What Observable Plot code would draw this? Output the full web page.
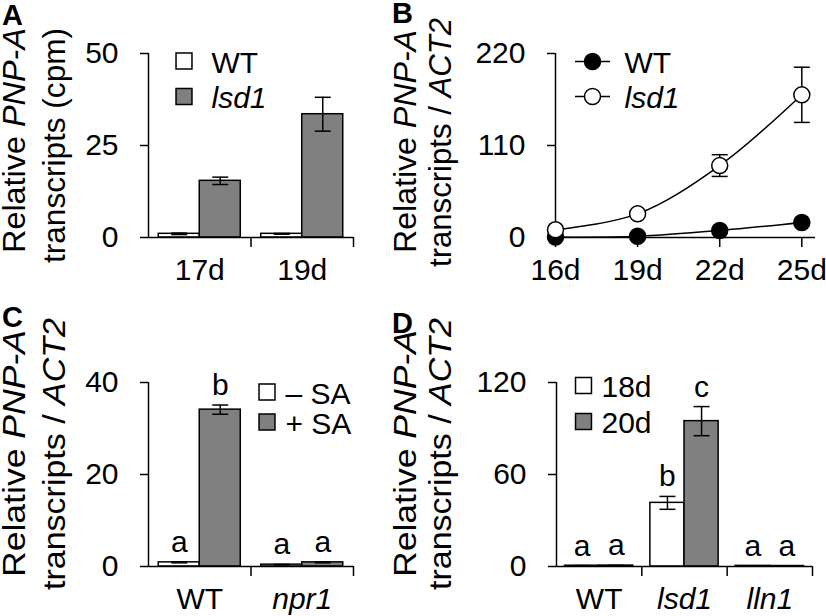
<!DOCTYPE html>
<html><head><meta charset="utf-8">
<script src="https://cdn.jsdelivr.net/npm/d3@7"></script>
<script src="https://cdn.jsdelivr.net/npm/@observablehq/plot@0.6"></script>
<style>
body{margin:0;background:#fff;}
#fig{position:relative;width:826px;height:616px;overflow:hidden;background:#fff;}
#fig svg{position:absolute;overflow:visible;background:transparent;}
</style></head><body><div id="fig"></div>
<script>
// ---------- DATA ----------
// Panel A
const groupsA = ["17d", "19d"];
const seriesA = ["WT", "lsd1"];
const aWT = [1.0, 1.0];
const aWTerr = [0.2, 0.1];
const aLsd1 = [15.4, 33.5];
const aLsd1err = [1.0, 4.6];
const yTicksA = [0, 25, 50];
// Panel B
const daysB = [16, 19, 22, 25];
const dayLabelsB = ["16d", "19d", "22d", "25d"];
const seriesB = ["WT", "lsd1"];
const bWT = [0.5, 1.5, 8.4, 18];
const bWTerr = [0.3, 0.5, 1, 1.5];
const bLsd1 = [9.2, 28.3, 86, 170.6];
const bLsd1err = [1, 2, 13, 33];
const yTicksB = [0, 110, 220];
// Panel C
const groupsC = ["WT", "npr1"];
const seriesC = ["\u2013 SA", "+ SA"];
const cMinus = [0.9, 0.4];
const cMinusErr = [0.1, 0.05];
const cPlus = [34.1, 0.9];
const cPlusErr = [1.0, 0.1];
const cMinusLetters = ["a", "a"];
const cPlusLetters = ["b", "a"];
const yTicksC = [0, 20, 40];
// Panel D
const groupsD = ["WT", "lsd1", "lln1"];
const seriesD = ["18d", "20d"];
const d18 = [0.5, 41.5, 0.4];
const d18err = [0.1, 4.2, 0.1];
const d20 = [0.6, 94.8, 0.3];
const d20err = [0.1, 9.5, 0.1];
const d18Letters = ["a", "b", "a"];
const d20Letters = ["a", "c", "a"];
const yTicksD = [0, 60, 120];
// Titles
const titleA = [[["Relative ", false], ["PNP-A", true]], [["transcripts (cpm)", false]]];
const titleACT = [[["Relative ", false], ["PNP-A", true]], [["transcripts / ", false], ["ACT2", true]]];
const panelLabels = ["A", "B", "C", "D"];
const italicNames = ["lsd1", "npr1", "lln1"];

// ---------- STYLE / LAYOUT ----------
const FONT = '"Liberation Sans", Arial, Helvetica, sans-serif';
const GRAY = "#808080";
const PAD = 0.1, BW = 0.4, CAP = 8, SW = 1.5;
const capSymbol = {draw(ctx) { ctx.moveTo(-CAP, 0); ctx.lineTo(CAP, 0); }};
const lineLegendSymbol = {draw(ctx, size) {
  const r = Math.sqrt(size / Math.PI);
  ctx.moveTo(-17.5, 0); ctx.lineTo(-r, 0);
  ctx.moveTo(r, 0); ctx.lineTo(17.5, 0);
  ctx.moveTo(r, 0); ctx.arc(0, 0, r, 0, 2 * Math.PI);
}};
const fig = document.getElementById("fig");

function makeRows(series, vals, errs, letters) {
  const rows = [];
  series.forEach((s, si) => vals[si].forEach((v, gi) => rows.push({
    series: s, si, gi, value: v, err: errs[si][gi], letter: letters ? letters[si][gi] : null
  })));
  return rows;
}

function place(svg, left, top) {
  svg.style.left = left + "px";
  svg.style.top = top + "px";
  fig.appendChild(svg);
}

function addTitle(svg, off, lines, fs) {
  const g = d3.select(svg).append("g").attr("font-family", FONT).attr("font-size", fs).attr("fill", "black");
  lines.forEach(line => {
    const t = g.append("text")
      .attr("text-anchor", "middle")
      .attr("transform", `translate(${line.x - off[0]},${line.y - off[1]}) rotate(-90)`)
      .attr("textLength", line.len).attr("lengthAdjust", "spacingAndGlyphs");
    line.segs.forEach(([s, it]) => t.append("tspan").attr("font-style", it ? "italic" : "normal").text(s));
  });
}

function addPanelLabel(svg, off, label, x, y) {
  d3.select(svg).append("text").attr("x", x - off[0]).attr("y", y - off[1])
    .attr("text-anchor", "start")
    .attr("font-family", FONT).attr("font-size", 29).attr("font-weight", "bold").attr("fill", "black").text(label);
}

function barPanel(cfg) {
  const {groups, series, fills, rows, yTicks, w, h, m, leg} = cfg;
  const n = groups.length, yMax = yTicks[yTicks.length - 1];
  const x1 = d => d.gi + PAD + d.si * BW;
  const x2 = d => d.gi + PAD + (d.si + 1) * BW;
  const cx = d => d.gi + PAD + (d.si + 0.5) * BW;
  const hi = d => d.value + d.err;
  const lo = d => Math.max(0, d.value - d.err);
  const legendMarks = series.flatMap((s, i) => [
    Plot.dot([s], {frameAnchor: "top-left", dx: leg.sx, dy: leg.y0 + i * leg.step, symbol: "square", r: 9,
      fill: d => d, stroke: "black", strokeWidth: SW}),
    Plot.text([s], {frameAnchor: "top-left", dx: leg.tx, dy: leg.y0 + i * leg.step + 2, text: d => d,
      textAnchor: "start", lineAnchor: "middle", fontStyle: italicNames.includes(s) ? "italic" : "normal"})
  ]);
  return Plot.plot({
    width: w, height: h,
    marginLeft: m[0], marginRight: m[1], marginTop: m[2], marginBottom: m[3],
    x: {domain: [0, n]},
    y: {domain: [0, yMax]},
    color: {domain: series, range: fills},
    style: {fontFamily: FONT, fontSize: "30px", color: "black", background: "transparent", overflow: "visible"},
    marks: [
      Plot.rect(rows, {x1, x2, y1: 0, y2: "value", fill: "series", stroke: "black", strokeWidth: SW}),
      Plot.ruleX(rows, {x: cx, y1: lo, y2: hi, stroke: "black", strokeWidth: SW}),
      Plot.dot(rows, {x: cx, y: hi, symbol: capSymbol, fill: "none", stroke: "black", strokeWidth: SW}),
      Plot.dot(rows, {x: cx, y: lo, symbol: capSymbol, fill: "none", stroke: "black", strokeWidth: SW}),
      Plot.ruleX([0], {y1: 0, y2: yMax, stroke: "black", strokeWidth: SW}),
      Plot.ruleY([0], {stroke: "black", strokeWidth: SW}),
      Plot.axisY({ticks: yTicks, tickSize: 8, tickPadding: 22, strokeWidth: SW, label: null}),
      Plot.axisX({ticks: d3.range(1, n + 1), tickSize: 10, tickFormat: () => "", strokeWidth: SW, label: null}),
      Plot.text(groups, {filter: d => !italicNames.includes(d), x: (d, i) => i + 0.5, y: 0, dy: 21,
        lineAnchor: "top", text: d => d}),
      Plot.text(groups, {filter: d => italicNames.includes(d), x: (d, i) => i + 0.5, y: 0, dy: 21,
        lineAnchor: "top", text: d => d, fontStyle: "italic"}),
      Plot.text(rows.filter(d => d.letter), {x: cx, y: hi, text: "letter", lineAnchor: "bottom", dy: -10}),
      ...legendMarks
    ]
  });
}

// ---------- PANEL A ----------
{
  const off = [0, 0];
  const svg = barPanel({
    groups: groupsA, series: seriesA, fills: ["white", GRAY],
    rows: makeRows(seriesA, [aWT, aLsd1], [aWTerr, aLsd1err]),
    yTicks: yTicksA, w: 413, h: 300, m: [148, 60, 53, 63],
    leg: {sx: 35.5, tx: 63, y0: 7.5, step: 35.5}
  });
  addTitle(svg, off, [
    {segs: titleA[0], x: 25, y: 140.5, len: 225},
    {segs: titleA[1], x: 65, y: 145.5, len: 235}
  ], 31);
  addPanelLabel(svg, off, panelLabels[0], 2, 25);
  place(svg, off[0], off[1]);
}

// ---------- PANEL B ----------
{
  const off = [380, 0];
  const rowsB = [];
  [bWT, bLsd1].forEach((vals, si) => vals.forEach((v, i) => rowsB.push({
    series: seriesB[si], day: daysB[i], value: v, err: [bWTerr, bLsd1err][si][i]
  })));
  const wt = rowsB.filter(d => d.series === seriesB[0]);
  const ls = rowsB.filter(d => d.series === seriesB[1]);
  const yMax = yTicksB[yTicksB.length - 1];
  const legendMarks = seriesB.flatMap((s, i) => [
    Plot.dot([s], {frameAnchor: "top-left", dx: 37, dy: 8 + i * 35, symbol: lineLegendSymbol, r: 8,
      fill: d => d, stroke: "black", strokeWidth: SW}),
    Plot.text([s], {frameAnchor: "top-left", dx: 69, dy: 10 + i * 35, text: d => d,
      textAnchor: "start", lineAnchor: "middle", fontStyle: italicNames.includes(s) ? "italic" : "normal"})
  ]);
  const svg = Plot.plot({
    width: 446, height: 300, marginLeft: 175, marginRight: 11, marginTop: 53, marginBottom: 63,
    x: {domain: [daysB[0], 25.5]},
    y: {domain: [0, yMax]},
    color: {domain: seriesB, range: ["black", "white"]},
    style: {fontFamily: FONT, fontSize: "30px", color: "black", background: "transparent", overflow: "visible"},
    marks: [
      Plot.ruleX([daysB[0]], {y1: 0, y2: yMax, stroke: "black", strokeWidth: SW}),
      Plot.ruleY([0], {stroke: "black", strokeWidth: SW}),
      Plot.axisY({ticks: yTicksB, tickSize: 8, tickPadding: 22, strokeWidth: SW, label: null}),
      Plot.axisX({ticks: daysB, tickSize: 10, tickPadding: 11, strokeWidth: SW, label: null,
        tickFormat: d => dayLabelsB[daysB.indexOf(d)]}),
      Plot.line(wt, {x: "day", y: "value", curve: "catmull-rom", stroke: "black", strokeWidth: SW}),
      Plot.line(ls, {x: "day", y: "value", curve: "catmull-rom", stroke: "black", strokeWidth: SW}),
      Plot.ruleX(rowsB, {x: "day", y1: d => d.value - d.err, y2: d => d.value + d.err, stroke: "black", strokeWidth: SW}),
      Plot.dot(rowsB, {x: "day", y: d => d.value + d.err, symbol: capSymbol, fill: "none", stroke: "black", strokeWidth: SW}),
      Plot.dot(rowsB, {x: "day", y: d => d.value - d.err, symbol: capSymbol, fill: "none", stroke: "black", strokeWidth: SW}),
      Plot.dot(wt, {x: "day", y: "value", r: 8, fill: "series", stroke: "black", strokeWidth: SW}),
      Plot.dot(ls, {x: "day", y: "value", r: 8, fill: "series", stroke: "black", strokeWidth: SW}),
      ...legendMarks
    ]
  });
  addTitle(svg, off, [
    {segs: titleACT[0], x: 416, y: 141.5, len: 223},
    {segs: titleACT[1], x: 451, y: 142.5, len: 249}
  ], 31);
  addPanelLabel(svg, off, panelLabels[1], 392, 23);
  place(svg, off[0], off[1]);
}

// ---------- PANEL C ----------
{
  const off = [0, 300];
  const svg = barPanel({
    groups: groupsC, series: seriesC, fills: ["white", GRAY],
    rows: makeRows(seriesC, [cMinus, cPlus], [cMinusErr, cPlusErr], [cMinusLetters, cPlusLetters]),
    yTicks: yTicksC, w: 413, h: 316, m: [148, 60, 82, 50],
    leg: {sx: 118.5, tx: 137, y0: 9.5, step: 30}
  });
  addTitle(svg, off, [
    {segs: titleACT[0], x: 25, y: 453.5, len: 247},
    {segs: titleACT[1], x: 65, y: 454, len: 272}
  ], 31);
  addPanelLabel(svg, off, panelLabels[2], 2, 327);
  place(svg, off[0], off[1]);
}

// ---------- PANEL D ----------
{
  const off = [380, 300];
  const svg = barPanel({
    groups: groupsD, series: seriesD, fills: ["white", GRAY],
    rows: makeRows(seriesD, [d18, d20], [d18err, d20err], [d18Letters, d20Letters]),
    yTicks: yTicksD, w: 446, h: 316, m: [176, 14, 82, 50],
    leg: {sx: 27, tx: 45, y0: 3, step: 36}
  });
  addTitle(svg, off, [
    {segs: titleACT[0], x: 416, y: 453.5, len: 247},
    {segs: titleACT[1], x: 451, y: 454, len: 272}
  ], 31);
  addPanelLabel(svg, off, panelLabels[3], 392, 333);
  place(svg, off[0], off[1]);
}
</script></body></html>
